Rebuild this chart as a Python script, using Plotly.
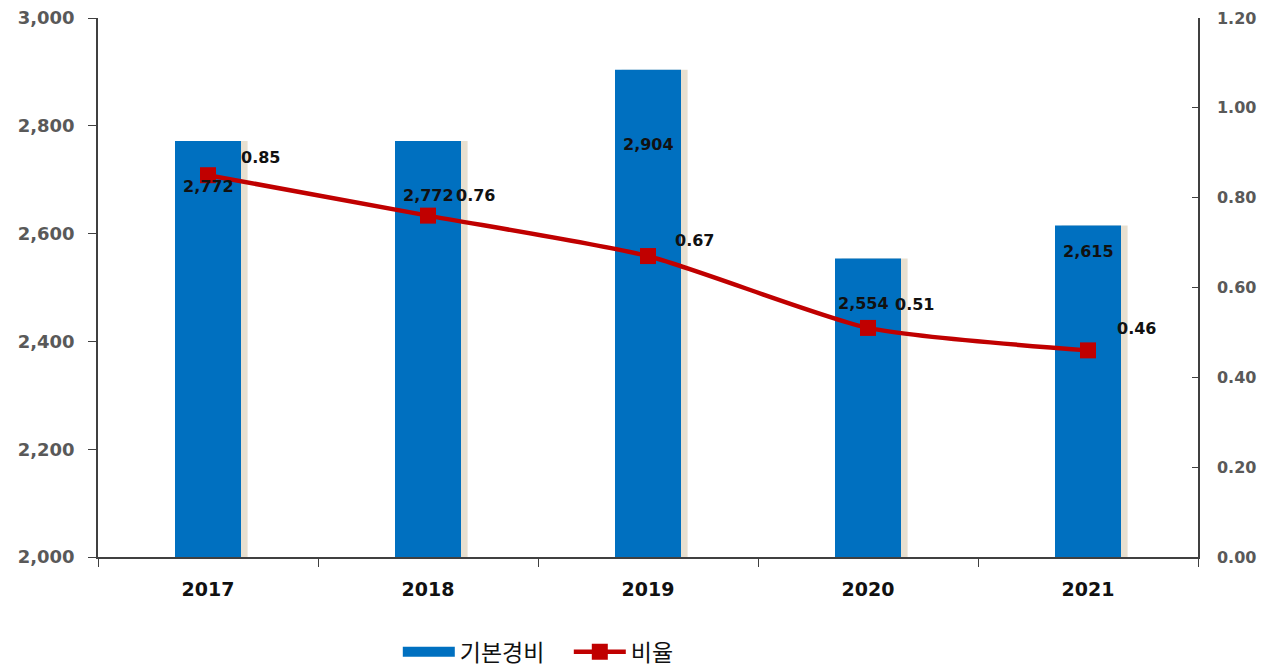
import plotly.graph_objects as go

years = ["2017", "2018", "2019", "2020", "2021"]
base_cost = [2772, 2772, 2904, 2554, 2615]
ratio = [0.85, 0.76, 0.67, 0.51, 0.46]
left_ticks = [2000, 2200, 2400, 2600, 2800, 3000]
right_ticks = [0.0, 0.2, 0.4, 0.6, 0.8, 1.0, 1.2]

# label placement (style only)
bar_label_drop = [46, 55, 75, 45, 26]
bar_label_dx = [0, 0, 0, -5, 0]
line_label_dx = [52, 47, 46, 46, 48]
line_label_dy = [18, 20, 16, 23, 22]

BLUE = "#0070C0"
RED = "#C00000"
GRAY = "#595959"
FONT = "DejaVu Sans"
KFONT = "Noto Sans CJK KR"

fig = go.Figure()
# soft shadow on the right side of the bars
fig.add_trace(go.Bar(
    x=years, y=base_cost, marker_color="rgba(190,165,120,0.35)",
    marker_line_width=0, width=0.3, offset=-0.12, yaxis="y",
    showlegend=False, hoverinfo="skip"))
fig.add_trace(go.Bar(
    x=years, y=base_cost, name="기본경비", marker_color=BLUE,
    marker_line_width=0, width=0.3, offset=-0.15, yaxis="y",
    showlegend=False))
# legend entry drawn as a thick blue bar-line like the reference
fig.add_trace(go.Scatter(
    x=years, y=[None] * len(years), name="기본경비", mode="lines",
    line=dict(color=BLUE, width=10), yaxis="y2", hoverinfo="skip"))
fig.add_trace(go.Scatter(
    x=years, y=ratio, name="비율", yaxis="y2", mode="lines+markers",
    line=dict(color=RED, width=4.5, shape="spline", smoothing=0.6),
    marker=dict(symbol="square", size=16, color=RED)))

annotations = []
for i, v in enumerate(base_cost):
    annotations.append(dict(
        x=i, y=v, xref="x", yref="y", text=f"<b>{v:,}</b>",
        showarrow=False, yshift=-bar_label_drop[i], xshift=bar_label_dx[i],
        font=dict(family=FONT, size=16, color="#111111")))
for i, v in enumerate(ratio):
    annotations.append(dict(
        x=i, y=v, xref="x", yref="y2", text=f"<b>{v:.2f}</b>",
        showarrow=False, xshift=line_label_dx[i], yshift=line_label_dy[i],
        font=dict(family=FONT, size=16, color="#111111")))

fig.update_layout(
    width=1265, height=660,
    margin=dict(l=90, r=75, t=10, b=111, autoexpand=False),
    paper_bgcolor="white", plot_bgcolor="white",
    font=dict(family=FONT),
    showlegend=True, barmode="overlay",
    legend=dict(orientation="h", x=0.428, xanchor="center", y=-0.176,
                yanchor="middle", font=dict(family=KFONT, size=23, color="#111111"),
                traceorder="normal", itemwidth=52, entrywidth=104),
    xaxis=dict(
        type="category", categoryorder="array", categoryarray=years,
        range=[-0.5, len(years) - 0.5],
        tickvals=years, ticktext=[f"<b>{y}</b>" for y in years],
        tickangle=0, automargin=False, ticklabelstandoff=14,
        showline=True, linecolor="#404040", linewidth=1.5,
        ticks="outside", tickson="boundaries", ticklen=8,
        tickcolor="#404040", showgrid=False,
        tickfont=dict(family=FONT, size=19, color="#111111")),
    yaxis=dict(
        range=[2000, 3000], tickvals=left_ticks,
        ticktext=[f"<b>{t:,}</b>" for t in left_ticks],
        automargin=False, ticklabeloverflow="allow", ticklabelstandoff=10,
        showline=True, linecolor="#404040", linewidth=1.5,
        ticks="outside", ticklen=8, tickcolor="#404040", showgrid=False,
        zeroline=False, tickfont=dict(family=FONT, size=18, color=GRAY)),
    yaxis2=dict(
        overlaying="y", side="right", range=[0, 1.2], tickvals=right_ticks,
        ticktext=[f"<b>{t:.2f}</b>" for t in right_ticks],
        automargin=False, ticklabeloverflow="allow", ticklabelstandoff=14,
        showline=True, linecolor="#404040", linewidth=1.5,
        ticks="inside", ticklen=6, tickcolor="#404040", showgrid=False,
        zeroline=False, tickfont=dict(family=FONT, size=16, color=GRAY)),
    annotations=annotations,
)

fig.write_html("out.html")
